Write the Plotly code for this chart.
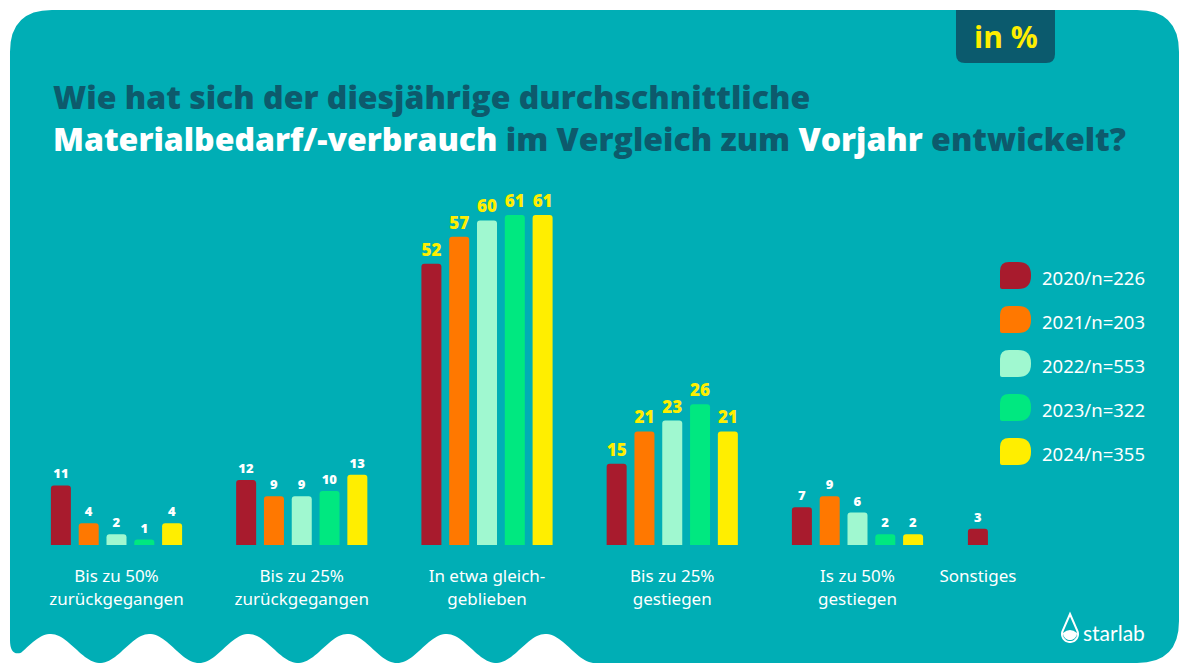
import math
import plotly.graph_objects as go

# ---------------- data ----------------
categories = ["Bis zu 50%<br>zurückgegangen", "Bis zu 25%<br>zurückgegangen",
              "In etwa gleich-<br>geblieben", "Bis zu 25%<br>gestiegen",
              "Is zu 50%<br>gestiegen", "Sonstiges"]
years = ["2020", "2021", "2022", "2023", "2024"]
sample_sizes = [226, 203, 553, 322, 355]
values_2020 = [11, 12, 52, 15, 7, 3]
values_2021 = [4, 9, 57, 21, 9, None]
values_2022 = [2, 9, 60, 23, 6, None]
values_2023 = [1, 10, 61, 26, 2, None]
values_2024 = [4, 13, 61, 21, 2, None]
series = [values_2020, values_2021, values_2022, values_2023, values_2024]

title_line1 = "Wie hat sich der diesjährige durchschnittliche"
unit_label = "in %"
brand = "starlab"

# ---------------- styles / layout constants ----------------
W, H = 1190, 670
BG = "#00AEB5"
DARK = "#0D5A6C"
YELLOW = "#FFEE00"
colors = ["#A81B2D", "#FF7800", "#A0F8D0", "#00E880", "#FFEE00"]
highlight = {2, 3}                     # groups with large yellow labels
cat_pos = [0, 1, 2, 3, 4, 4.65]        # group centres on the x axis
unit_px = 185.25                       # pixels per x unit
x0_px = 116.5                          # pixel of first group centre
bar_w = 20 / unit_px
pitch = 27.8 / unit_px
base_px, top_px = 545, 190
y_px_per_unit = 5.41


def P(x, y):
    return f"{x / W:.5f},{1 - y / H:.5f}"


fig = go.Figure()

for i, (yr, vals) in enumerate(zip(years, series)):
    xs, ys, offs, tcol, tsize = [], [], [], [], []
    for j, v in enumerate(vals):
        if v is None:
            continue
        single = sum(1 for s in series if s[j] is not None) == 1
        xs.append(cat_pos[j])
        ys.append(v)
        offs.append(-bar_w / 2 if single else (i - 2) * pitch - bar_w / 2)
        tcol.append(YELLOW if j in highlight else "white")
        tsize.append(17 if j in highlight else 13)
    fig.add_trace(go.Bar(
        x=xs, y=ys, offset=offs, width=bar_w, name=f"{yr}/n={sample_sizes[i]}",
        marker=dict(color=colors[i], line=dict(width=0)),
        text=ys, texttemplate="%{y}", textposition="outside",
        textfont=dict(color=tcol, size=tsize, family="Open Sans", weight=800),
        cliponaxis=False, showlegend=False, hoverinfo="skip",
    ))

shapes = []
# panel with rounded corners and wavy bottom-left edge
path = (f"M {P(10, 52)} Q {P(10, 10)} {P(52, 10)} L {P(1137, 10)} "
        f"Q {P(1179, 10)} {P(1179, 52)} L {P(1179, 621)} "
        f"Q {P(1179, 663)} {P(1137, 663)} L {P(595, 663)} ")
x = 595
while x >= 20:
    yv = 648.5 + 14.5 * math.cos(2 * math.pi * (x - 100) / 99)
    path += f"L {P(x, yv)} "
    x -= 2
path += f"Q {P(10, 656)} {P(10, 640)} L {P(10, 52)} Z"
shapes.append(dict(type="path", path=path, xref="paper", yref="paper",
                   fillcolor=BG, line=dict(width=0), layer="below"))

# "in %" box
bx0, bx1, by0, by1, r = 956, 1055, 10, 63, 9
shapes.append(dict(type="path", xref="paper", yref="paper", layer="below",
                   path=(f"M {P(bx0, by0)} L {P(bx1, by0)} L {P(bx1, by1 - r)} "
                         f"Q {P(bx1, by1)} {P(bx1 - r, by1)} L {P(bx0 + r, by1)} "
                         f"Q {P(bx0, by1)} {P(bx0, by1 - r)} Z"),
                   fillcolor="#0B5A6D", line=dict(width=0)))

annotations = []
annotations.append(dict(text=f"<b>{unit_label}</b>", x=1006 / W, y=1 - 37 / H,
                        xref="paper", yref="paper", showarrow=False,
                        xanchor="center", yanchor="middle",
                        font=dict(family="Open Sans", size=30, color=YELLOW, weight=800)))

# title
tfont = dict(family="Open Sans", size=32, color=DARK, weight=800)
annotations.append(dict(text=title_line1, x=51 / W, y=1 - 96 / H, xref="paper", yref="paper",
                        showarrow=False, xanchor="left", yanchor="middle", font=tfont))
line2 = ('<span style="color:white">Materialbedarf/-verbrauch</span> im Vergleich zum '
         '<span style="color:white">Vorjahr</span> entwickelt?')
annotations.append(dict(text=line2, x=51 / W, y=1 - 138 / H, xref="paper", yref="paper",
                        showarrow=False, xanchor="left", yanchor="middle", font=tfont))


# custom legend
def legend_marker(x0, y0, w=31, h=27, tl=9, tr=13, br=13, bl=2):
    return (f"M {P(x0 + tl, y0)} L {P(x0 + w - tr, y0)} Q {P(x0 + w, y0)} {P(x0 + w, y0 + tr)} "
            f"L {P(x0 + w, y0 + h - br)} Q {P(x0 + w, y0 + h)} {P(x0 + w - br, y0 + h)} "
            f"L {P(x0 + bl, y0 + h)} Q {P(x0, y0 + h)} {P(x0, y0 + h - bl)} "
            f"L {P(x0, y0 + tl)} Q {P(x0, y0)} {P(x0 + tl, y0)} Z")


for i, (yr, n) in enumerate(zip(years, sample_sizes)):
    y0 = 262 + i * 44
    shapes.append(dict(type="path", xref="paper", yref="paper", path=legend_marker(1000, y0),
                       fillcolor=colors[i], line=dict(width=0)))
    annotations.append(dict(text=f"{yr}/n={n}", x=1040 / W, y=1 - (y0 + 15) / H,
                            xref="paper", yref="paper", showarrow=False,
                            xanchor="left", yanchor="middle",
                            font=dict(family="Noto Sans", size=18.5, color="white")))

# starlab logo (drop icon)
cx, cy, rr, tip = 1070, 634, 8, 614
d = cy - tip
phi = math.acos(rr / d)
outline = f"M {P(cx, tip)} "
steps = 40
for k in range(steps + 1):
    b = phi + (2 * math.pi - 2 * phi) * k / steps
    outline += f"L {P(cx + rr * math.sin(b), cy - rr * math.cos(b))} "
outline += "Z"
shapes.append(dict(type="path", xref="paper", yref="paper", path=outline,
                   fillcolor="rgba(0,0,0,0)", line=dict(color="white", width=2)))
inner = rr - 1
lower = f"M {P(cx - inner, cy - 1)} "
for k in range(21):
    a = math.pi * k / 20
    lower += f"L {P(cx - inner * math.cos(a), cy - 1 + inner * math.sin(a))} "
lower += f"Q {P(cx, cy - 7)} {P(cx - inner, cy - 1)} Z"
shapes.append(dict(type="path", xref="paper", yref="paper", path=lower,
                   fillcolor="white", line=dict(width=0)))
annotations.append(dict(text=brand, x=1081 / W, y=1 - 632 / H, xref="paper", yref="paper",
                        showarrow=False, xanchor="left", yanchor="middle",
                        font=dict(family="Lato", size=21, color="white")))

fig.update_layout(
    width=W, height=H, autosize=False,
    margin=dict(l=0, r=0, t=0, b=0),
    paper_bgcolor="white", plot_bgcolor="rgba(0,0,0,0)",
    barmode="overlay", barcornerradius=3,
    shapes=shapes, annotations=annotations,
    xaxis=dict(domain=[0, 1],
               range=[-x0_px / unit_px, (W - x0_px) / unit_px],
               tickmode="array", tickvals=cat_pos, ticktext=categories,
               ticks="outside", ticklen=16, tickcolor="rgba(0,0,0,0)",
               tickfont=dict(family="Noto Sans", size=17, color="white"),
               showgrid=False, zeroline=False, showline=False, fixedrange=True),
    yaxis=dict(domain=[(H - base_px) / H, (H - top_px) / H],
               range=[0, (base_px - top_px) / y_px_per_unit],
               visible=False, showgrid=False, zeroline=False, fixedrange=True),
    showlegend=False,
)

fig.write_html("out.html", config={"displayModeBar": False},
               post_script="document.body.style.margin='0';document.body.style.overflow='hidden';")
